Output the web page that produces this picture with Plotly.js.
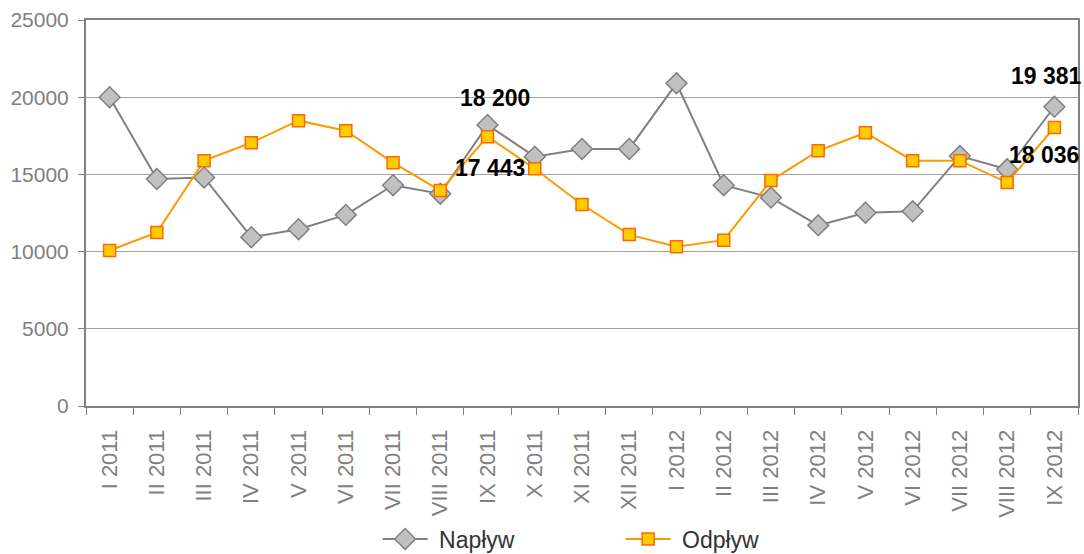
<!DOCTYPE html>
<html>
<head>
<meta charset="utf-8">
<script src="https://cdn.plot.ly/plotly-3.0.1.min.js"></script>
<style>html,body{margin:0;padding:0;background:#fff;}#chart{width:1084px;height:554px;}</style>
</head>
<body>
<div id="chart"></div>
<script>
const categories = ["I 2011","II 2011","III 2011","IV 2011","V 2011","VI 2011","VII 2011","VIII 2011","IX 2011","X 2011","XI 2011","XII 2011","I 2012","II 2012","III 2012","IV 2012","V 2012","VI 2012","VII 2012","VIII 2012","IX 2012"];
const naplyw = [20000,14700,14800,10930,11450,12380,14300,13750,18200,16150,16650,16650,20900,14300,13500,11700,12520,12610,16190,15330,19381];
const odplyw = [10070,11240,15890,17050,18480,17830,15760,13950,17443,15370,13050,11100,10310,10740,14600,16530,17700,15890,15890,14470,18036];
const labelNames = ["Napływ","Odpływ"];
const annotated = [
  {series:0, idx:8, text:"18 200", dx:7, dy:27},
  {series:1, idx:8, text:"17 443", dx:2, dy:-31},
  {series:0, idx:20, text:"19 381", dx:-8, dy:31},
  {series:1, idx:20, text:"18 036", dx:-10, dy:-27}
];
const seriesData = [naplyw, odplyw];

const traces = [
  {x:categories, y:naplyw, name:'\u00a0' + labelNames[0], type:'scatter', mode:'lines+markers',
   line:{color:'#808080', width:2},
   marker:{symbol:'diamond', size:16, color:'#c0c0c0', line:{color:'#808080', width:1.5}}},
  {x:categories, y:odplyw, name:'\u00a0' + labelNames[1], type:'scatter', mode:'lines+markers',
   line:{color:'#ff9900', width:2},
   marker:{symbol:'square', size:12, color:'#ffcc00', line:{color:'#ff6600', width:1.5}}}
];

const annotations = annotated.map(a => ({
  x: categories[a.idx], y: seriesData[a.series][a.idx], xref:'x', yref:'y',
  text: a.text, showarrow:false, xshift:a.dx, yshift:a.dy,
  font:{family:'Liberation Sans, Arial, sans-serif', size:23, color:'#000', weight:'bold'}
}));

const layout = {
  width:1084, height:554,
  margin:{l:86, r:6, t:20, b:148, autoexpand:false},
  paper_bgcolor:'#fff', plot_bgcolor:'#fff',
  font:{family:'Liberation Sans, Arial, sans-serif', size:21, color:'#808080'},
  showlegend:true,
  legend:{orientation:'h', x:0.294, xanchor:'left', yref:'container', y:0.027, yanchor:'middle',
    font:{size:23, color:'#333'}, entrywidth:183, itemwidth:45, tracegroupgap:0, bgcolor:'rgba(0,0,0,0)'},
  xaxis:{type:'category', tickangle:-90, showline:true, linecolor:'#808080', linewidth:2,
    mirror:true, ticks:'outside', ticklen:7, tickcolor:'#808080', tickson:'boundaries',
    showgrid:false, automargin:false, ticklabelstandoff:13,
    tickfont:{size:22, color:'#808080'}, range:[-0.5,20.5]},
  yaxis:{range:[0,25000], dtick:5000, tickformat:'d', showline:true, linecolor:'#808080', linewidth:2,
    mirror:true, ticks:'outside', ticklen:6, tickcolor:'#808080', showgrid:true, automargin:false,
    ticklabelstandoff:5,
    gridcolor:'#a0a0a0', gridwidth:1.2, zeroline:false, tickfont:{size:21, color:'#808080'}},
  annotations: annotations
};

Plotly.newPlot('chart', traces, layout, {displayModeBar:false, staticPlot:true});
</script>
</body>
</html>
